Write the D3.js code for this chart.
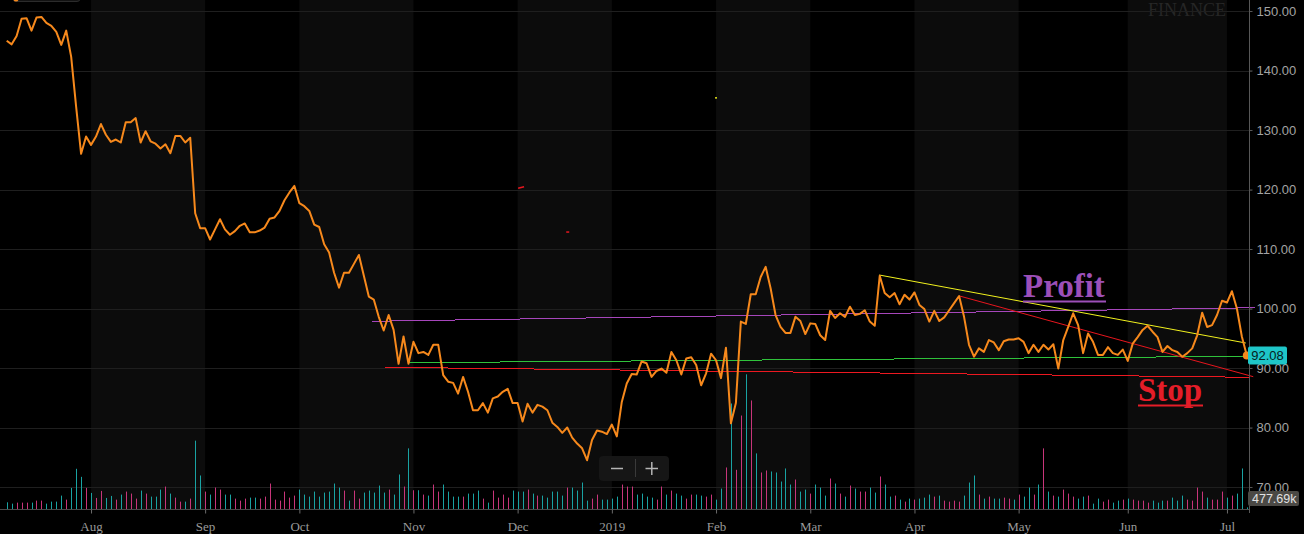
<!DOCTYPE html>
<html>
<head>
<meta charset="utf-8">
<script src="https://cdn.jsdelivr.net/npm/d3@7"></script>
<style>
html, body { margin: 0; padding: 0; background: #000; overflow: hidden; }
#container { width: 1304px; height: 534px; }
svg { display: block; }
</style>
</head>
<body>
<div id="container"></div>
<script>
////////// DATA

var firstDay = "2018-07-09"; // first trading day on the chart
var lastDay = "2019-07-08"; // last (partial) trading day
var holidays = ["2018-09-03", "2018-11-22", "2018-12-05", "2018-12-25", "2019-01-01",
	"2019-01-21", "2019-02-18", "2019-04-19", "2019-05-27", "2019-07-04"];

// daily closes, one per trading day
var closes = [
	145.0, 144.4, 145.8, 148.7, 148.8, 146.7, 148.9, 149.0, 148.0, 147.5,
	146.5, 144.3, 146.7, 142.3, 133.9, 126.0, 128.9, 127.5, 128.9, 131.0,
	129.2, 128.0, 128.4, 127.9, 131.3, 131.3, 132.0, 127.9, 129.8, 128.1,
	127.7, 126.9, 127.6, 126.1, 129.0, 129.0, 127.9, 128.7, 116.0, 113.5,
	113.5, 111.6, 113.3, 115.0, 113.3, 112.4, 113.0, 113.9, 114.3, 112.8,
	112.8, 113.1, 113.6, 115.1, 115.3, 116.4, 118.2, 119.5, 120.6, 117.7,
	117.2, 116.4, 114.1, 113.7, 110.8, 109.4, 106.0, 103.5, 106.0, 106.0,
	107.5, 109.0, 105.5, 102.0, 101.5, 98.6, 96.3, 98.9, 96.4, 90.7,
	95.3, 90.7, 94.4, 92.5, 92.7, 92.2, 93.9, 93.9, 88.8, 87.7,
	87.5, 85.7, 88.5, 86.0, 82.9, 82.9, 84.1, 82.5, 84.9, 85.2,
	86.0, 86.5, 84.1, 84.1, 81.0, 84.0, 82.5, 83.8, 83.5, 82.9,
	80.8, 80.1, 79.1, 80.0, 78.3, 77.3, 76.5, 74.5, 77.9, 79.5,
	79.3, 78.9, 80.5, 78.5, 84.3, 87.4, 89.0, 88.9, 91.1, 90.8,
	88.5, 89.5, 89.9, 89.2, 92.7, 91.3, 88.9, 91.6, 91.8, 90.5,
	87.1, 89.1, 92.4, 91.3, 88.3, 93.4, 80.7, 84.1, 97.8, 97.4,
	102.4, 102.4, 105.3, 107.0, 103.4, 98.9, 96.9, 95.9, 95.9, 98.6,
	97.9, 95.7, 97.5, 97.4, 95.5, 94.7, 99.6, 98.4, 99.2, 98.6,
	100.3, 98.9, 99.1, 99.7, 97.8, 97.1, 105.5, 102.6, 101.9, 102.6,
	100.7, 102.3, 101.5, 102.7, 100.6, 99.9, 97.8, 99.6, 97.9, 98.5,
	99.7, 100.9, 102.1, 98.6, 93.9, 91.9, 93.3, 92.7, 94.7, 94.3,
	93.0, 94.5, 94.8, 94.8, 95.0, 94.4, 92.5, 93.9, 92.7, 93.9,
	93.1, 94.0, 89.9, 94.7, 96.9, 99.2, 97.2, 92.5, 95.8, 94.4,
	92.2, 92.2, 93.5, 92.5, 92.2, 93.1, 91.2, 94.1, 95.2, 96.4,
	97.1, 96.1, 95.2, 92.7, 93.7, 93.0, 92.7, 91.9, 92.5, 93.3,
	95.5, 99.3, 96.9, 97.2, 98.9, 101.3, 101.0, 102.9, 100.0, 95.3,
	92.08
];

// daily volume in millions of shares
var volumes = [
	2.0, 1.6, 1.9, 1.9, 1.9, 1.9, 2.5, 2.5, 1.6, 2.2,
	2.2, 4.0, 2.8, 6.3, 12.0, 9.6, 6.3, 4.8, 3.3, 5.4,
	3.3, 3.9, 2.8, 4.3, 5.2, 4.6, 3.1, 5.5, 4.6, 3.7,
	3.7, 5.8, 6.7, 4.6, 3.4, 2.2, 2.2, 3.1, 20.4, 10.0,
	5.2, 4.3, 6.4, 5.8, 4.3, 4.3, 3.1, 2.5, 3.1, 3.4,
	3.4, 3.1, 3.7, 7.6, 2.8, 2.5, 5.2, 3.4, 4.0, 5.8,
	4.3, 3.7, 5.2, 3.7, 4.9, 5.2, 7.6, 6.4, 5.5, 2.5,
	5.5, 3.1, 4.9, 5.5, 4.9, 7.0, 4.9, 5.8, 4.3, 10.3,
	6.7, 18.1, 5.6, 5.6, 4.3, 4.0, 7.3, 5.2, 7.3, 5.2,
	3.7, 3.7, 3.7, 4.6, 4.6, 5.5, 3.1, 1.9, 5.5, 3.4,
	4.3, 3.4, 5.5, 5.2, 5.2, 5.8, 4.6, 4.0, 4.0, 3.4,
	5.2, 5.2, 4.0, 6.4, 6.4, 5.5, 7.9, 2.5, 3.1, 4.3,
	2.8, 2.8, 3.1, 3.7, 7.3, 6.7, 6.7, 4.3, 4.6, 3.7,
	3.4, 2.8, 6.7, 4.3, 5.5, 4.6, 4.0, 3.1, 4.3, 4.3,
	4.0, 3.7, 4.3, 2.8, 6.1, 12.4, 31.5, 11.7, 27.9, 40.2,
	32.4, 16.6, 10.9, 11.5, 11.2, 10.9, 8.2, 12.1, 7.3, 8.8,
	5.2, 5.8, 4.6, 7.3, 6.4, 4.0, 9.1, 7.6, 4.6, 3.7,
	7.0, 6.1, 5.2, 5.2, 6.4, 4.9, 9.7, 7.3, 3.7, 4.0,
	2.8, 2.2, 3.1, 2.8, 3.1, 3.4, 4.3, 3.7, 4.0, 2.5,
	2.2, 2.5, 2.2, 4.0, 7.9, 10.0, 4.3, 3.1, 3.7, 3.1,
	3.1, 3.4, 3.1, 2.8, 4.3, 3.7, 6.4, 4.3, 7.3, 18.1,
	5.2, 4.0, 3.7, 5.8, 4.6, 3.7, 3.1, 3.7, 4.0, 1.6,
	3.1, 2.2, 2.8, 1.9, 2.5, 2.8, 3.1, 2.8, 2.5, 2.5,
	1.9, 2.5, 1.9, 2.5, 2.5, 3.4, 2.5, 4.0, 2.8, 2.5,
	6.4, 5.2, 3.4, 2.8, 2.8, 5.2, 3.4, 4.0, 4.6, 12.1,
	0.47769
];

// 1 = up day (teal bar), 0 = down day (pink bar)
var volumeUp = [
	1,1,0,0,0,1,0,0,1,1, 1,1,0,1,1,1,0,1,0,0, 1,1,0,1,0,0,0,1,0,1, 1,1,0,1,0,0,1,0,1,1,
	0,1,0,0,1,1,0,0,0,1, 1,0,0,0,0,0,0,0,0,1, 1,1,1,1,1,1,1,1,0,1, 0,0,1,1,1,1,1,0,1,1,
	0,1,0,1,0,1,0,0,1,1, 1,1,0,1,1,1,0,1,0,0, 0,0,1,1,1,0,1,0,1,1, 1,1,1,0,1,1,1,1,0,0,
	1,1,1,1,0,0,0,1,1,1, 1,0,0,1,0,1,1,0,0,1, 1,0,0,1,1,0,1,0,0,1, 0,1,0,0,1,1,1,1,1,0,
	1,1,0,1,1,1,0,1,0,1, 0,1,0,0,1,1,0,1,1,0, 1,0,1,0,1,1,1,0,1,0, 0,0,0,1,1,1,0,1,0,1,
	1,0,0,1,0,1,1,0,1,0, 1,0,1,0,0,0,1,1,0,1, 1,0,0,1,1,0,1,0,0,0, 0,1,1,1,0,1,1,1,0,0,
	0,0,1,0,0,0,1,0,1,1, 1
];

var priceTicks = [70, 80, 90, 100, 110, 120, 130, 140, 150];
var monthLabels = ["Aug", "Sep", "Oct", "Nov", "Dec", "2019", "Feb", "Mar", "Apr", "May", "Jun", "Jul"];

// drawn levels: [trading day index, price] end points
var profitLine = [[73.6, 97.85], [251.7, 100.13]];
var supportLine = [[81.0, 90.89], [251.1, 91.97]];
var stopLine = [[76.3, 90.12], [250.5, 88.44]];
var upperTrend = [[175.9, 105.63], [249.8, 94.2]];
var lowerTrend = [[192.1, 102.1], [251.3, 88.54]];
// tiny leftover drawing marks
var strayMarks = [
	{from: [142.8, 135.4], to: [143.2, 135.4], color: "#e6e619"},
	{from: [103.1, 120.2], to: [104.3, 120.45], color: "#e8161e"},
	{from: [112.8, 112.85], to: [113.4, 112.85], color: "#e8161e"}
];

////////// LAYOUT

var gWidth = 1304;
var gHeight = 534;
var plotRight = 1249; // price axis line
var volBase = 509; // volume baseline / date axis

var color_price = "#f7891c";
var color_up = "#19a3a3";
var color_down = "#c8357a";
var color_band = "#0c0c0c";
var color_grid = "#1f1f1f";
var color_text = "#a3a3a3";

function tradingDays()
{
	var off = {};
	holidays.forEach(function(h) { off[h] = true; });
	var fmt = d3.timeFormat("%Y-%m-%d");
	var parse = d3.timeParse("%Y-%m-%d");
	return d3.timeDay.range(parse(firstDay), d3.timeDay.offset(parse(lastDay), 1))
		.filter(function(d) { return d.getDay() != 0 && d.getDay() != 6 && !off[fmt(d)]; });
}

function draw()
{
	var days = tradingDays();
	var svg = d3.select("#container").append("svg")
		.attr("width", gWidth)
		.attr("height", gHeight)
		.style("background", "#000");

	var x = d3.scaleLinear().domain([0, closes.length - 1]).range([6.7, 1246.8]);
	var y = d3.scaleLinear().domain([70, 150]).range([487, 11]);
	var yVol = d3.scaleLinear().domain([0, 40]).range([volBase, 375]);

	// first trading day of every month
	var monthStarts = [];
	for (var i = 1; i < days.length; i++)
		if (days[i].getMonth() != days[i - 1].getMonth()) monthStarts.push(i);

	// alternating month bands (Aug, Oct, Dec ... are lighter)
	var edges = [0].concat(monthStarts);
	for (var m = 0; m < edges.length; m++)
	{
		if (m % 2 == 0) continue;
		var x0 = x(edges[m]);
		var x1 = m + 1 < edges.length ? x(edges[m + 1]) : plotRight;
		svg.append("rect")
			.attr("x", x0).attr("y", 0)
			.attr("width", x1 - x0).attr("height", volBase)
			.attr("fill", color_band);
	}

	// watermark
	svg.append("text")
		.attr("x", 1148).attr("y", 16)
		.text("FINANCE")
		.style("font-family", "'Liberation Serif', serif")
		.style("font-size", "18px")
		.style("fill", "#262626");

	// horizontal grid
	svg.selectAll(".grid").data(priceTicks).enter().append("line")
		.attr("class", "grid")
		.attr("x1", 0).attr("x2", plotRight + 3)
		.attr("y1", function(d) { return Math.round(y(d)) + 0.5; })
		.attr("y2", function(d) { return Math.round(y(d)) + 0.5; })
		.style("stroke", color_grid)
		.style("stroke-width", "1px");

	// volume bars
	svg.selectAll(".vol").data(volumes).enter().append("rect")
		.attr("class", "vol")
		.attr("x", function(d, i) { return Math.round(x(i)); })
		.attr("y", function(d) { return yVol(d); })
		.attr("width", 1)
		.attr("height", function(d) { return volBase - yVol(d); })
		.attr("fill", function(d, i) { return volumeUp[i] ? color_up : color_down; });

	// level lines (pixel stepped like the original)
	function levelLine(pts, color, crisp)
	{
		svg.append("line")
			.attr("x1", x(pts[0][0])).attr("y1", y(pts[0][1]))
			.attr("x2", x(pts[1][0])).attr("y2", y(pts[1][1]))
			.style("stroke", color)
			.style("stroke-width", "1px")
			.style("shape-rendering", crisp ? "crispEdges" : "auto");
	}
	levelLine(profitLine, "#a646bb", true);
	levelLine(supportLine, "#2fc23b", true);
	levelLine(stopLine, "#ec1820", true);
	levelLine(upperTrend, "#f2f21e", false);
	levelLine(lowerTrend, "#e8161e", false);
	strayMarks.forEach(function(s)
	{
		svg.append("line")
			.attr("x1", x(s.from[0])).attr("y1", y(s.from[1]))
			.attr("x2", x(s.to[0])).attr("y2", y(s.to[1]))
			.style("stroke", s.color)
			.style("stroke-width", "1.5px");
	});

	// price line
	var line = d3.line()
		.x(function(d, i) { return x(i); })
		.y(function(d) { return y(d); });
	svg.append("path")
		.datum(closes)
		.attr("d", line)
		.style("fill", "none")
		.style("stroke", color_price)
		.style("stroke-width", "2px")
		.style("stroke-linejoin", "round");

	// annotations
	function label(txt, xPos, yPos, width, color)
	{
		svg.append("text")
			.attr("x", xPos).attr("y", yPos)
			.text(txt)
			.style("font-family", "'Liberation Serif', 'Times New Roman', serif")
			.style("font-weight", "bold")
			.style("font-size", "33px")
			.style("fill", color);
		svg.append("line")
			.attr("x1", xPos).attr("x2", xPos + width)
			.attr("y1", yPos + 4.5).attr("y2", yPos + 4.5)
			.style("stroke", color)
			.style("stroke-width", "2px");
	}
	label("Profit", 1023, 297, 83, "#9c4fb8");
	label("Stop", 1138, 401, 65, "#e41d28");

	// axis lines
	svg.append("line")
		.attr("x1", plotRight + 0.5).attr("x2", plotRight + 0.5)
		.attr("y1", 0).attr("y2", volBase + 4)
		.style("stroke", "#575757");
	svg.append("line")
		.attr("x1", 0).attr("x2", plotRight)
		.attr("y1", volBase + 0.5).attr("y2", volBase + 0.5)
		.style("stroke", "#4a4a4a");

	// price axis
	var yAxis = svg.append("g")
		.attr("transform", "translate(" + (plotRight + 0.5) + ",0)")
		.call(d3.axisRight(y).tickValues(priceTicks).tickFormat(d3.format(".2f")).tickSize(3).tickPadding(4));
	yAxis.select(".domain").remove();
	yAxis.selectAll("line").style("stroke", "#575757");
	yAxis.selectAll("text")
		.style("font-family", "'Liberation Sans', Arial, sans-serif")
		.style("font-size", "13px")
		.style("fill", color_text);

	// date axis
	var xAxis = svg.append("g")
		.attr("transform", "translate(0," + (volBase + 0.5) + ")")
		.call(d3.axisBottom(x).tickValues(monthStarts)
			.tickFormat(function(d, i) { return monthLabels[i]; })
			.tickSize(4).tickSizeOuter(0).tickPadding(8));
	xAxis.select(".domain").remove();
	xAxis.selectAll("line").style("stroke", "#6a6a6a");
	xAxis.selectAll("text")
		.style("font-family", "'Liberation Serif', 'Times New Roman', serif")
		.style("font-size", "13px")
		.style("fill", "#9a9a9a");

	// last price marker
	var last = closes.length - 1;
	svg.append("circle")
		.attr("cx", x(last)).attr("cy", y(closes[last]))
		.attr("r", 4)
		.style("fill", color_price);
	svg.append("rect")
		.attr("x", 1248).attr("y", y(closes[last]) - 9)
		.attr("width", 39).attr("height", 18).attr("rx", 2)
		.style("fill", "#1ec6c8");
	svg.append("text")
		.attr("x", 1267.5).attr("y", y(closes[last]) + 4.5)
		.attr("text-anchor", "middle")
		.text(d3.format(".2f")(closes[last]))
		.style("font-family", "'Liberation Sans', Arial, sans-serif")
		.style("font-size", "13px")
		.style("fill", "#062020");

	// last volume marker (sits just under the 70.00 label)
	svg.append("rect")
		.attr("x", 1248).attr("y", 491)
		.attr("width", 51).attr("height", 15).attr("rx", 2)
		.style("fill", "#4b4945");
	svg.append("text")
		.attr("x", 1252).attr("y", 503)
		.text(d3.format(".2f")(volumes[last] * 1000) + "k")
		.style("font-family", "'Liberation Sans', Arial, sans-serif")
		.style("font-size", "12.5px")
		.style("fill", "#e2e2e2");

	// zoom buttons
	svg.append("rect")
		.attr("x", 599).attr("y", 456).attr("width", 70).attr("height", 25).attr("rx", 4)
		.style("fill", "#161616");
	svg.append("line").attr("x1", 611).attr("x2", 623).attr("y1", 468.5).attr("y2", 468.5)
		.style("stroke", "#b5b5b5").style("stroke-width", "1.5px");
	svg.append("line").attr("x1", 635.5).attr("x2", 635.5).attr("y1", 459).attr("y2", 477)
		.style("stroke", "#3a3a3a");
	svg.append("line").attr("x1", 645.5).attr("x2", 658).attr("y1", 468.5).attr("y2", 468.5)
		.style("stroke", "#b5b5b5").style("stroke-width", "1.5px");
	svg.append("line").attr("x1", 651.8).attr("x2", 651.8).attr("y1", 462).attr("y2", 475)
		.style("stroke", "#b5b5b5").style("stroke-width", "1.5px");

	// cut-off tooltip box at the top left
	svg.append("rect")
		.attr("x", 13).attr("y", -10).attr("width", 67).attr("height", 11.5).attr("rx", 3)
		.style("fill", "#121212").style("stroke", "#2b2b2b");
	svg.append("circle").attr("cx", 16).attr("cy", -1).attr("r", 2.5).style("fill", color_price);
}

draw();
</script>
</body>
</html>
